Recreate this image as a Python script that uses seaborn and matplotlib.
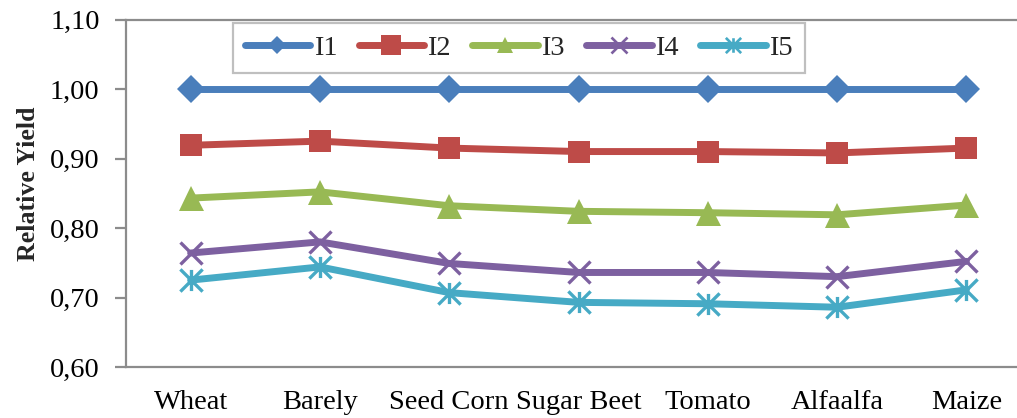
import numpy as np
import pandas as pd
import seaborn as sns
import matplotlib
matplotlib.use("Agg")
import matplotlib.pyplot as plt
from matplotlib.path import Path
from matplotlib.lines import Line2D
from matplotlib.ticker import FixedLocator, FuncFormatter

crops = ["Wheat", "Barely", "Seed Corn", "Sugar Beet", "Tomato", "Alfaalfa", "Maize"]
i1 = [1.000, 1.000, 1.000, 1.000, 1.000, 1.000, 1.000]
i2 = [0.919, 0.925, 0.915, 0.910, 0.910, 0.908, 0.915]
i3 = [0.843, 0.852, 0.832, 0.824, 0.822, 0.819, 0.833]
i4 = [0.764, 0.780, 0.749, 0.736, 0.736, 0.730, 0.752]
i5 = [0.725, 0.744, 0.707, 0.693, 0.691, 0.686, 0.711]
series_names = ["I1", "I2", "I3", "I4", "I5"]
y_ticks = [0.60, 0.70, 0.80, 0.90, 1.00, 1.10]

sns.set_theme(style="white")
plt.rcParams["font.family"] = ["Liberation Serif", "DejaVu Serif"]

df = pd.DataFrame({"crop": crops * 5,
                   "series": np.repeat(series_names, len(crops)),
                   "value": i1 + i2 + i3 + i4 + i5})

# Excel-style asterisk: an x with a vertical bar
asterisk = Path([(-1, -1), (1, 1), (-1, 1), (1, -1), (0, -0.95), (0, 0.95)],
                [Path.MOVETO, Path.LINETO, Path.MOVETO, Path.LINETO, Path.MOVETO, Path.LINETO])

colors = {"I1": "#4A7EBB", "I2": "#BE4B48", "I3": "#98B954", "I4": "#7D60A0", "I5": "#46AAC5"}
styles = {
    "I1": dict(marker="D", markersize=14.5, mew=0),
    "I2": dict(marker="s", markersize=16.5, mew=0),
    "I3": dict(marker="^", markersize=18, mew=0),
    "I4": dict(marker="x", markersize=16.5, mew=2.4),
    "I5": dict(marker=asterisk, markersize=16, mew=2.4),
}

fig = plt.figure(figsize=(10.17, 4.18), dpi=100)
ax = fig.add_axes([126 / 1017, 51 / 418, 905 / 1017, 347.5 / 418])

for name in series_names:
    sub = df[df["series"] == name]
    st = styles[name]
    sns.lineplot(data=sub, x="crop", y="value", ax=ax, color=colors[name],
                 linewidth=5, marker=st["marker"], markersize=st["markersize"],
                 markeredgewidth=st["mew"], markeredgecolor=colors[name],
                 markerfacecolor=colors[name], legend=False, sort=False)

ax.set_xlim(-0.5, len(crops) - 0.5)
ax.set_ylim(0.60, 1.10)
ax.set_xlabel("")
ax.set_ylabel("Relative Yield", fontsize=18.6, fontweight="bold")
ax.yaxis.set_label_coords(-0.095, 0.528)

ax.yaxis.set_major_locator(FixedLocator(y_ticks))
ax.yaxis.set_major_formatter(FuncFormatter(lambda v, p: f"{v:.2f}".replace(".", ",")))
ax.set_xticks(range(len(crops)))
ax.set_xticklabels(crops)
ax.set_xticks(np.arange(-0.5, len(crops), 1.0), minor=True)

gray = "#8C8C8C"
for side in ["left", "bottom", "top", "right"]:
    ax.spines[side].set_color(gray)
    ax.spines[side].set_linewidth(1.6)
ax.tick_params(axis="x", which="major", length=0, pad=16.5, labelsize=20.5, colors="black")
ax.tick_params(axis="x", which="minor", length=6, width=1.6, color=gray, direction="out")
ax.tick_params(axis="y", which="major", length=8, width=1.6, color=gray, direction="out",
               pad=11, labelsize=20.5, labelcolor="black", left=True)
ax.grid(False)

handles = []
legend_sizes = {"I1": 9, "I2": 14, "I3": 11, "I4": 11, "I5": 11}
for name in series_names:
    st = styles[name]
    handles.append(Line2D([], [], color=colors[name], linewidth=5,
                          marker=st["marker"], markersize=legend_sizes[name],
                          markeredgewidth=st["mew"] * 0.8, markeredgecolor=colors[name],
                          markerfacecolor=colors[name], solid_capstyle="round"))
leg = ax.legend(handles, series_names, ncol=5, loc="center left",
                bbox_to_anchor=(0.118, 0.919), frameon=True, fancybox=False,
                edgecolor="#B0B0B0", fontsize=20.5, handlelength=2.3,
                handletextpad=0.12, columnspacing=0.75, borderpad=0.42,
                borderaxespad=0)
leg.get_frame().set_linewidth(1.6)

fig.savefig("out.png", dpi=100)
